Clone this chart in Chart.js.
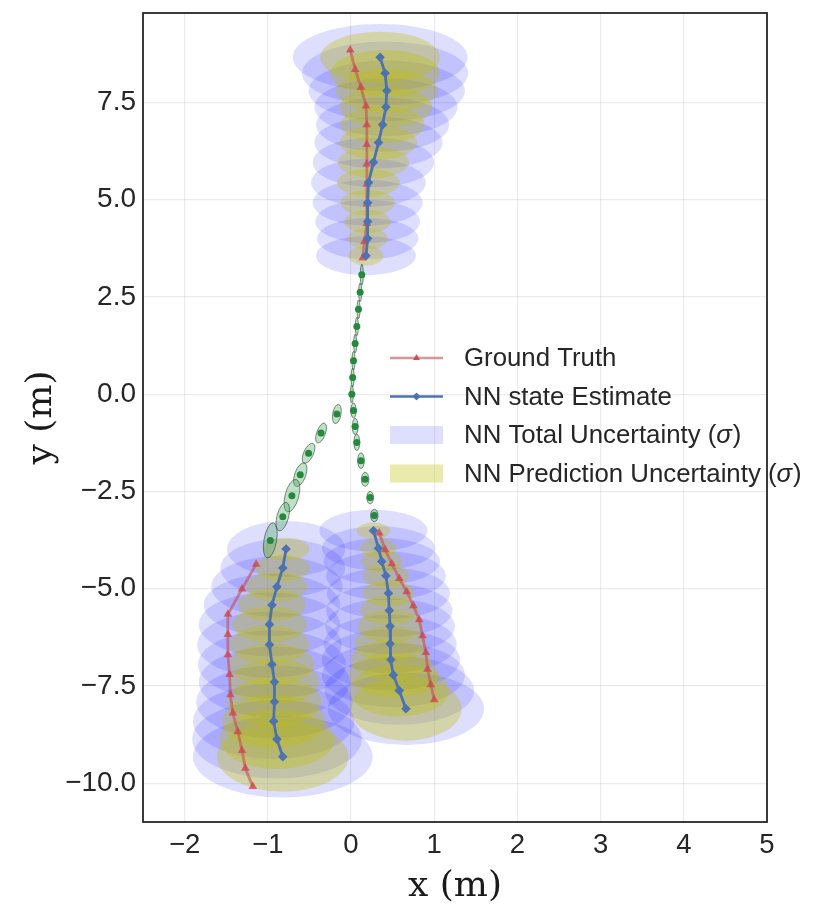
<!DOCTYPE html>
<html>
<head>
<meta charset="utf-8">
<script src="https://cdn.jsdelivr.net/npm/chart.js@4.4.1/dist/chart.umd.min.js"></script>
<style>
  html, body { margin: 0; padding: 0; background: #fff; }
  #wrap { width: 830px; height: 920px; }
</style>
</head>
<body>
<div id="wrap"><canvas id="chart" width="830" height="920"></canvas></div>
<script>
// ground truth and NN estimate, three tracks (top, bottom-left, bottom-right)
const gtTopX = [-0.01, 0.05, 0.12, 0.18, 0.19, 0.19, 0.19, 0.19, 0.19, 0.19, 0.16, 0.14];
const gtTopY = [8.85, 8.35, 7.89, 7.41, 6.93, 6.42, 5.92, 5.40, 4.89, 4.39, 3.92, 3.50];
const estTopX = [0.35, 0.41, 0.43, 0.42, 0.38, 0.33, 0.27, 0.21, 0.20, 0.20, 0.20, 0.18];
const estTopY = [8.66, 8.25, 7.80, 7.38, 6.93, 6.47, 5.96, 5.44, 4.92, 4.44, 4.00, 3.56];

const gtLeftX = [-1.14, -1.31, -1.48, -1.48, -1.48, -1.46, -1.45, -1.42, -1.36, -1.31, -1.27, -1.18];
const gtLeftY = [-4.37, -5.01, -5.66, -6.18, -6.70, -7.21, -7.73, -8.20, -8.68, -9.16, -9.62, -10.09];
const estLeftX = [-0.78, -0.82, -0.89, -0.95, -0.98, -0.98, -0.95, -0.92, -0.92, -0.93, -0.89, -0.82];
const estLeftY = [-3.98, -4.47, -4.95, -5.42, -5.92, -6.44, -6.95, -7.40, -7.91, -8.41, -8.87, -9.32];

const gtRightX = [0.34, 0.41, 0.49, 0.58, 0.67, 0.75, 0.82, 0.86, 0.90, 0.92, 0.96, 1.00];
const gtRightY = [-3.57, -4.00, -4.36, -4.74, -5.08, -5.44, -5.80, -6.21, -6.64, -7.07, -7.47, -7.86];
const estRightX = [0.27, 0.33, 0.37, 0.42, 0.45, 0.46, 0.47, 0.47, 0.48, 0.51, 0.58, 0.66];
const estRightY = [-3.51, -3.96, -4.30, -4.67, -5.12, -5.56, -5.97, -6.42, -6.83, -7.22, -7.62, -8.09];

// uncertainty half-axes (m), one per estimate point
const totTopRx = [1.05, 1.00, 0.94, 0.86, 0.80, 0.77, 0.73, 0.69, 0.66, 0.63, 0.61, 0.60];
const totTopRy = [0.86, 0.82, 0.78, 0.74, 0.70, 0.67, 0.64, 0.62, 0.59, 0.56, 0.53, 0.50];
const predTopRx = [0.72, 0.66, 0.61, 0.56, 0.51, 0.47, 0.43, 0.38, 0.33, 0.28, 0.24, 0.21];
const predTopRy = [0.66, 0.60, 0.56, 0.52, 0.48, 0.44, 0.40, 0.36, 0.33, 0.30, 0.28, 0.26];

const totLeftRx = [0.71, 0.75, 0.79, 0.82, 0.85, 0.87, 0.89, 0.91, 0.94, 0.97, 1.02, 1.08];
const totLeftRy = [0.72, 0.75, 0.78, 0.80, 0.82, 0.85, 0.88, 0.91, 0.94, 0.97, 1.01, 1.05];
const predLeftRx = [0.28, 0.33, 0.37, 0.41, 0.45, 0.48, 0.51, 0.54, 0.57, 0.62, 0.69, 0.79];
const predLeftRy = [0.29, 0.34, 0.38, 0.42, 0.46, 0.50, 0.54, 0.58, 0.63, 0.69, 0.77, 0.90];

const totRightRx = [0.65, 0.68, 0.70, 0.72, 0.74, 0.76, 0.78, 0.80, 0.83, 0.86, 0.90, 0.94];
const totRightRy = [0.54, 0.57, 0.60, 0.63, 0.66, 0.69, 0.72, 0.75, 0.79, 0.83, 0.88, 0.93];
const predRightRx = [0.20, 0.22, 0.25, 0.28, 0.31, 0.35, 0.39, 0.43, 0.48, 0.54, 0.60, 0.67];
const predRightRy = [0.22, 0.25, 0.28, 0.31, 0.34, 0.38, 0.42, 0.46, 0.51, 0.57, 0.67, 0.82];

// middle section (green), trunk and two branches
const trunkX = [0.13, 0.11, 0.09, 0.07, 0.05, 0.03, 0.02, 0.01];
const trunkY = [3.07, 2.62, 2.18, 1.74, 1.30, 0.86, 0.43, 0.00];
const trunkRx = [0.018, 0.018, 0.018, 0.018, 0.018, 0.018, 0.018, 0.018];
const trunkRy = [0.27, 0.24, 0.24, 0.24, 0.24, 0.24, 0.24, 0.23];

const brRightX = [0.03, 0.05, 0.07, 0.12, 0.17, 0.23, 0.28];
const brRightY = [-0.42, -0.83, -1.24, -1.71, -2.19, -2.66, -3.12];
const brRightRx = [0.032, 0.035, 0.035, 0.04, 0.045, 0.04, 0.045];
const brRightRy = [0.19, 0.21, 0.21, 0.20, 0.18, 0.16, 0.16];

const brLeftX = [-0.17, -0.36, -0.51, -0.61, -0.71, -0.82, -0.97];
const brLeftY = [-0.51, -1.00, -1.52, -2.07, -2.61, -3.15, -3.76];
const brLeftRx = [0.05, 0.052, 0.058, 0.066, 0.082, 0.07, 0.076];
const brLeftRy = [0.25, 0.27, 0.28, 0.32, 0.43, 0.38, 0.46];
const brLeftRot = [10, 20, 25, 20, 15, 15, 10];

const xTicks = [-2, -1, 0, 1, 2, 3, 4, 5];
const yTicks = [-10, -7.5, -5, -2.5, 0, 2.5, 5, 7.5];

const RED_LINE = 'rgba(196,78,82,0.6)';
const RED_PT = 'rgba(206,72,76,0.8)';
const BLUE = '#4c72b0';
const TOT_FILL = 'rgba(0,0,255,0.13)';
const PRED_FILL = 'rgba(191,191,0,0.33)';
const GREEN_FILL = 'rgba(60,160,80,0.32)';
const GREEN_EDGE = 'rgba(40,70,45,0.6)';
const GREEN_DOT = '#24893c';
const SANS = '"Liberation Sans", Arial, sans-serif';

const zip = (xs, ys) => xs.map((x, i) => ({ x: x, y: ys[i] }));
const zipEll = (xs, ys, rxs, rys, rots) =>
  xs.map((x, i) => ({ x: x, y: ys[i], rx: rxs[i], ry: rys[i], rot: rots ? rots[i] : 0 }));

function lineSet(label, pts, isGt) {
  return {
    label: label,
    data: pts,
    showLine: true,
    borderColor: isGt ? RED_LINE : BLUE,
    borderWidth: 2.8,
    pointStyle: isGt ? 'triangle' : 'rectRot',
    pointRadius: isGt ? 5 : 4.8,
    pointBackgroundColor: isGt ? RED_PT : BLUE,
    pointBorderColor: isGt ? RED_PT : BLUE,
    pointBorderWidth: 0,
    tension: 0
  };
}

function ellSet(label, pts, fill, edge, dotColor) {
  return {
    label: label,
    data: pts,
    ellipse: { fill: fill, edge: edge },
    showLine: false,
    pointRadius: dotColor ? 3.5 : 0,
    pointBackgroundColor: dotColor || 'transparent',
    pointBorderWidth: 0
  };
}

const datasets = [
  lineSet('NN state Estimate', zip(estTopX, estTopY), false),
  lineSet('NN state Estimate', zip(estLeftX, estLeftY), false),
  lineSet('NN state Estimate', zip(estRightX, estRightY), false),
  lineSet('Ground Truth', zip(gtTopX, gtTopY), true),
  lineSet('Ground Truth', zip(gtLeftX, gtLeftY), true),
  lineSet('Ground Truth', zip(gtRightX, gtRightY), true),
  ellSet('middle', zipEll(trunkX, trunkY, trunkRx, trunkRy), GREEN_FILL, GREEN_EDGE, GREEN_DOT),
  ellSet('middle', zipEll(brRightX, brRightY, brRightRx, brRightRy), GREEN_FILL, GREEN_EDGE, GREEN_DOT),
  ellSet('middle', zipEll(brLeftX, brLeftY, brLeftRx, brLeftRy, brLeftRot), GREEN_FILL, GREEN_EDGE, GREEN_DOT),
  ellSet('NN Prediction Uncertainty', zipEll(estTopX, estTopY, predTopRx, predTopRy), PRED_FILL),
  ellSet('NN Prediction Uncertainty', zipEll(estLeftX, estLeftY, predLeftRx, predLeftRy), PRED_FILL),
  ellSet('NN Prediction Uncertainty', zipEll(estRightX, estRightY, predRightRx, predRightRy), PRED_FILL),
  ellSet('NN Total Uncertainty', zipEll(estTopX, estTopY, totTopRx, totTopRy), TOT_FILL),
  ellSet('NN Total Uncertainty', zipEll(estLeftX, estLeftY, totLeftRx, totLeftRy), TOT_FILL),
  ellSet('NN Total Uncertainty', zipEll(estRightX, estRightY, totRightRx, totRightRy), TOT_FILL)
];

// ellipses are drawn from the data through the scales, before the points/lines
const ellipsePlugin = {
  id: 'ellipses',
  beforeDatasetsDraw(chart) {
    const { ctx, chartArea } = chart;
    const sx = chart.scales.x, sy = chart.scales.y;
    ctx.save();
    ctx.beginPath();
    ctx.rect(chartArea.left, chartArea.top, chartArea.right - chartArea.left, chartArea.bottom - chartArea.top);
    ctx.clip();
    // last datasets go to the back, same as chart.js draw order
    for (let d = chart.data.datasets.length - 1; d >= 0; d--) {
      const ds = chart.data.datasets[d];
      if (!ds.ellipse) continue;
      ds.data.forEach(p => {
        const cx = sx.getPixelForValue(p.x), cy = sy.getPixelForValue(p.y);
        const rx = Math.abs(sx.getPixelForValue(p.x + p.rx) - cx);
        const ry = Math.abs(sy.getPixelForValue(p.y + p.ry) - cy);
        ctx.beginPath();
        ctx.ellipse(cx, cy, rx, ry, p.rot * Math.PI / 180, 0, Math.PI * 2);
        ctx.fillStyle = ds.ellipse.fill;
        ctx.fill();
        if (ds.ellipse.edge) {
          ctx.strokeStyle = ds.ellipse.edge;
          ctx.lineWidth = 1;
          ctx.stroke();
        }
      });
    }
    ctx.restore();
  }
};

// axes frame + legend without box, as in the figure
const frameLegendPlugin = {
  id: 'frameLegend',
  afterDraw(chart) {
    const { ctx, chartArea } = chart;
    ctx.save();
    ctx.strokeStyle = '#262626';
    ctx.lineWidth = 1.8;
    ctx.strokeRect(chartArea.left, chartArea.top, chartArea.right - chartArea.left, chartArea.bottom - chartArea.top);

    const items = [
      { kind: 'line', color: RED_LINE, pt: RED_PT, style: 'triangle', text: ['Ground Truth'] },
      { kind: 'line', color: BLUE, pt: BLUE, style: 'rectRot', text: ['NN state Estimate'] },
      { kind: 'patch', color: TOT_FILL, text: ['NN Total Uncertainty (', 'σ', ')'] },
      { kind: 'patch', color: PRED_FILL, text: ['NN Prediction Uncertainty (', 'σ', ')'] }
    ];
    const x0 = 390, x1 = 443, tx = 464;
    let y = 358;
    items.forEach(it => {
      if (it.kind === 'line') {
        ctx.strokeStyle = it.color;
        ctx.lineWidth = 2.6;
        ctx.beginPath();
        ctx.moveTo(x0, y);
        ctx.lineTo(x1, y);
        ctx.stroke();
        ctx.fillStyle = it.pt;
        Chart.helpers.drawPoint(ctx, { pointStyle: it.style, radius: 3.8, borderWidth: 0 }, (x0 + x1) / 2, y);
        ctx.fill();
      } else {
        ctx.fillStyle = it.color;
        ctx.fillRect(x0, y - 9, x1 - x0, 18);
      }
      ctx.fillStyle = '#262626';
      ctx.textBaseline = 'middle';
      let cx = tx;
      it.text.forEach((t, i) => {
        ctx.font = (i === 1 ? 'italic ' : '') + '25.8px ' + SANS;
        ctx.fillText(t, cx, y + 1);
        cx += ctx.measureText(t).width + (i === 1 ? 1 : 0);
      });
      y += 38.5;
    });
    ctx.restore();
  }
};

const minus = v => String(v).replace('-', '\u2212');

new Chart(document.getElementById('chart'), {
  type: 'scatter',
  data: { datasets: datasets },
  options: {
    responsive: false,
    animation: false,
    layout: { padding: { top: 13, right: 63, left: 0, bottom: 0 } },
    plugins: { legend: { display: false }, tooltip: { enabled: false } },
    scales: {
      x: {
        type: 'linear',
        min: -2.5,
        max: 5,
        ticks: {
          padding: 7,
          color: '#262626',
          font: { family: SANS, size: 27.5 },
          callback: v => minus(v.toFixed(0))
        },
        afterBuildTicks: s => { s.ticks = xTicks.map(v => ({ value: v })); },
        afterFit: s => { s.height = 98; s.paddingLeft = 0; s.paddingRight = 0; },
        grid: { color: 'rgba(0,0,0,0.08)', lineWidth: 1.2, drawTicks: false },
        border: { display: false },
        title: {
          display: true,
          text: 'x (m)',
          color: '#1a1a1a',
          font: { family: '"DejaVu Serif", serif', size: 36 },
          padding: { top: 0, bottom: 12 }
        }
      },
      y: {
        type: 'linear',
        min: -11,
        max: 9.8,
        ticks: {
          padding: 7,
          color: '#262626',
          font: { family: SANS, size: 28 },
          callback: v => minus(v.toFixed(1))
        },
        afterBuildTicks: s => { s.ticks = yTicks.map(v => ({ value: v })); },
        afterFit: s => { s.width = 143; s.paddingTop = 0; s.paddingBottom = 0; },
        grid: { color: 'rgba(0,0,0,0.08)', lineWidth: 1.2, drawTicks: false },
        border: { display: false },
        title: {
          display: true,
          text: 'y (m)',
          color: '#1a1a1a',
          font: { family: '"DejaVu Serif", serif', size: 36 },
          padding: { top: 20, bottom: 0 }
        }
      }
    }
  },
  plugins: [ellipsePlugin, frameLegendPlugin]
});
</script>
</body>
</html>
